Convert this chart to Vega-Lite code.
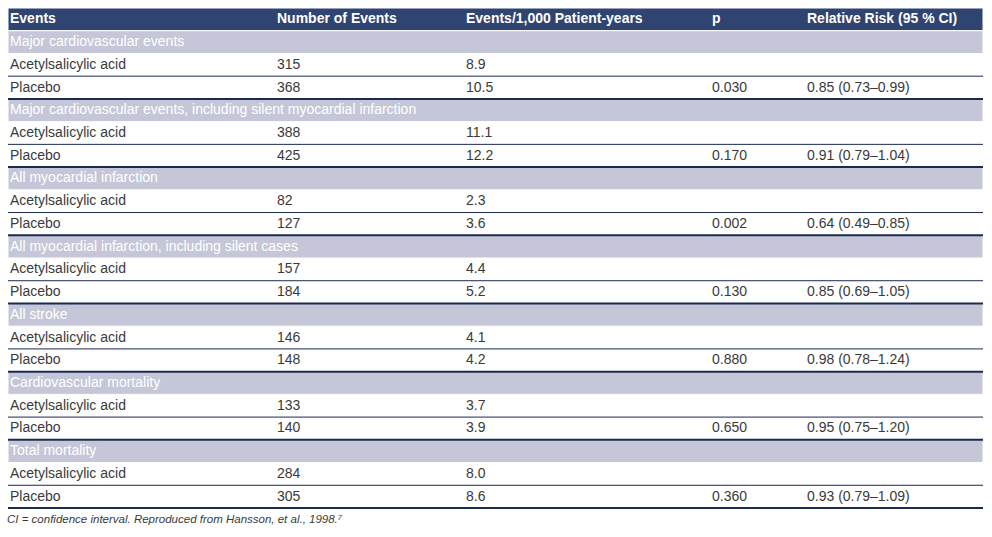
{
  "$schema": "https://vega.github.io/schema/vega-lite/v6.json",
  "autosize": {"type": "none"},
  "padding": {"left": 8, "top": 8, "right": 9, "bottom": 29},
  "width": 975,
  "height": 500,
  "background": "white",
  "title": {
    "text": "CI = confidence interval. Reproduced from Hansson, et al., 1998.⁷",
    "orient": "bottom",
    "anchor": "start",
    "font": "Liberation Sans",
    "fontSize": 11.5,
    "fontStyle": "italic",
    "fontWeight": "normal",
    "color": "#3a3a3a",
    "offset": 5
  },
  "config": {"view": {"stroke": null}},
  "data": {
    "values": [
      {"r": 0, "c": 1, "k": "header", "t": "Events"},
      {"r": 0, "c": 2, "k": "header", "t": "Number of Events"},
      {"r": 0, "c": 3, "k": "header", "t": "Events/1,000 Patient-years"},
      {"r": 0, "c": 4, "k": "header", "t": "p"},
      {"r": 0, "c": 5, "k": "header", "t": "Relative Risk (95 % CI)"},

      {"r": 1, "c": 1, "k": "section", "t": "Major cardiovascular events"},
      {"r": 2, "c": 1, "k": "data", "t": "Acetylsalicylic acid"},
      {"r": 2, "c": 2, "k": "data", "t": "315"},
      {"r": 2, "c": 3, "k": "data", "t": "8.9"},
      {"r": 3, "c": 1, "k": "data", "t": "Placebo"},
      {"r": 3, "c": 2, "k": "data", "t": "368"},
      {"r": 3, "c": 3, "k": "data", "t": "10.5"},
      {"r": 3, "c": 4, "k": "data", "t": "0.030"},
      {"r": 3, "c": 5, "k": "data", "t": "0.85 (0.73–0.99)"},

      {"r": 4, "c": 1, "k": "section", "t": "Major cardiovascular events, including silent myocardial infarction"},
      {"r": 5, "c": 1, "k": "data", "t": "Acetylsalicylic acid"},
      {"r": 5, "c": 2, "k": "data", "t": "388"},
      {"r": 5, "c": 3, "k": "data", "t": "11.1"},
      {"r": 6, "c": 1, "k": "data", "t": "Placebo"},
      {"r": 6, "c": 2, "k": "data", "t": "425"},
      {"r": 6, "c": 3, "k": "data", "t": "12.2"},
      {"r": 6, "c": 4, "k": "data", "t": "0.170"},
      {"r": 6, "c": 5, "k": "data", "t": "0.91 (0.79–1.04)"},

      {"r": 7, "c": 1, "k": "section", "t": "All myocardial infarction"},
      {"r": 8, "c": 1, "k": "data", "t": "Acetylsalicylic acid"},
      {"r": 8, "c": 2, "k": "data", "t": "82"},
      {"r": 8, "c": 3, "k": "data", "t": "2.3"},
      {"r": 9, "c": 1, "k": "data", "t": "Placebo"},
      {"r": 9, "c": 2, "k": "data", "t": "127"},
      {"r": 9, "c": 3, "k": "data", "t": "3.6"},
      {"r": 9, "c": 4, "k": "data", "t": "0.002"},
      {"r": 9, "c": 5, "k": "data", "t": "0.64 (0.49–0.85)"},

      {"r": 10, "c": 1, "k": "section", "t": "All myocardial infarction, including silent cases"},
      {"r": 11, "c": 1, "k": "data", "t": "Acetylsalicylic acid"},
      {"r": 11, "c": 2, "k": "data", "t": "157"},
      {"r": 11, "c": 3, "k": "data", "t": "4.4"},
      {"r": 12, "c": 1, "k": "data", "t": "Placebo"},
      {"r": 12, "c": 2, "k": "data", "t": "184"},
      {"r": 12, "c": 3, "k": "data", "t": "5.2"},
      {"r": 12, "c": 4, "k": "data", "t": "0.130"},
      {"r": 12, "c": 5, "k": "data", "t": "0.85 (0.69–1.05)"},

      {"r": 13, "c": 1, "k": "section", "t": "All stroke"},
      {"r": 14, "c": 1, "k": "data", "t": "Acetylsalicylic acid"},
      {"r": 14, "c": 2, "k": "data", "t": "146"},
      {"r": 14, "c": 3, "k": "data", "t": "4.1"},
      {"r": 15, "c": 1, "k": "data", "t": "Placebo"},
      {"r": 15, "c": 2, "k": "data", "t": "148"},
      {"r": 15, "c": 3, "k": "data", "t": "4.2"},
      {"r": 15, "c": 4, "k": "data", "t": "0.880"},
      {"r": 15, "c": 5, "k": "data", "t": "0.98 (0.78–1.24)"},

      {"r": 16, "c": 1, "k": "section", "t": "Cardiovascular mortality"},
      {"r": 17, "c": 1, "k": "data", "t": "Acetylsalicylic acid"},
      {"r": 17, "c": 2, "k": "data", "t": "133"},
      {"r": 17, "c": 3, "k": "data", "t": "3.7"},
      {"r": 18, "c": 1, "k": "data", "t": "Placebo"},
      {"r": 18, "c": 2, "k": "data", "t": "140"},
      {"r": 18, "c": 3, "k": "data", "t": "3.9"},
      {"r": 18, "c": 4, "k": "data", "t": "0.650"},
      {"r": 18, "c": 5, "k": "data", "t": "0.95 (0.75–1.20)"},

      {"r": 19, "c": 1, "k": "section", "t": "Total mortality"},
      {"r": 20, "c": 1, "k": "data", "t": "Acetylsalicylic acid"},
      {"r": 20, "c": 2, "k": "data", "t": "284"},
      {"r": 20, "c": 3, "k": "data", "t": "8.0"},
      {"r": 21, "c": 1, "k": "data", "t": "Placebo"},
      {"r": 21, "c": 2, "k": "data", "t": "305"},
      {"r": 21, "c": 3, "k": "data", "t": "8.6"},
      {"r": 21, "c": 4, "k": "data", "t": "0.360"},
      {"r": 21, "c": 5, "k": "data", "t": "0.93 (0.79–1.09)"}
    ]
  },
  "encoding": {
    "y": {
      "field": "r",
      "type": "ordinal",
      "axis": null,
      "scale": {
        "domain": [0,1,2,3,4,5,6,7,8,9,10,11,12,13,14,15,16,17,18,19,20,21],
        "paddingInner": 0,
        "paddingOuter": 0
      }
    }
  },
  "layer": [
    {
      "transform": [{"filter": "datum.c == 1 && datum.k != 'data'"}],
      "mark": {"type": "rect", "stroke": "white", "strokeWidth": 1},
      "encoding": {
        "color": {
          "condition": {"test": "datum.k == 'header'", "value": "#2f4470"},
          "value": "#c5c7d8"
        }
      }
    },
    {
      "transform": [{"filter": "datum.c == 1 && datum.t == 'Placebo'"}],
      "mark": {"type": "rule", "color": "#1b2a52", "strokeWidth": 1},
      "encoding": {
        "y": {"field": "r", "type": "ordinal", "bandPosition": 0}
      }
    },
    {
      "transform": [{"filter": "datum.c == 1 && datum.t == 'Placebo'"}],
      "mark": {"type": "rule", "color": "#1b2a52", "strokeWidth": 2},
      "encoding": {
        "y": {"field": "r", "type": "ordinal", "bandPosition": 1}
      }
    },
    {
      "transform": [{"filter": "datum.k == 'header'"}],
      "mark": {"type": "text", "align": "left", "baseline": "middle", "font": "Liberation Sans", "fontSize": 14, "fontWeight": "bold", "color": "white"},
      "encoding": {
        "x": {"field": "c", "type": "quantitative", "axis": null, "scale": {"domain": [1, 2, 3, 4, 5], "range": [2, 269, 458, 704, 799]}},
        "text": {"field": "t"}
      }
    },
    {
      "transform": [{"filter": "datum.k == 'section'"}],
      "mark": {"type": "text", "align": "left", "baseline": "middle", "font": "Liberation Sans", "fontSize": 14, "color": "white"},
      "encoding": {
        "x": {"field": "c", "type": "quantitative", "axis": null, "scale": {"domain": [1, 2, 3, 4, 5], "range": [2, 269, 458, 704, 799]}},
        "text": {"field": "t"}
      }
    },
    {
      "transform": [{"filter": "datum.k == 'data'"}],
      "mark": {"type": "text", "align": "left", "baseline": "middle", "font": "Liberation Sans", "fontSize": 14, "color": "#3a3a3a"},
      "encoding": {
        "x": {"field": "c", "type": "quantitative", "axis": null, "scale": {"domain": [1, 2, 3, 4, 5], "range": [2, 269, 458, 704, 799]}},
        "text": {"field": "t"}
      }
    }
  ]
}
